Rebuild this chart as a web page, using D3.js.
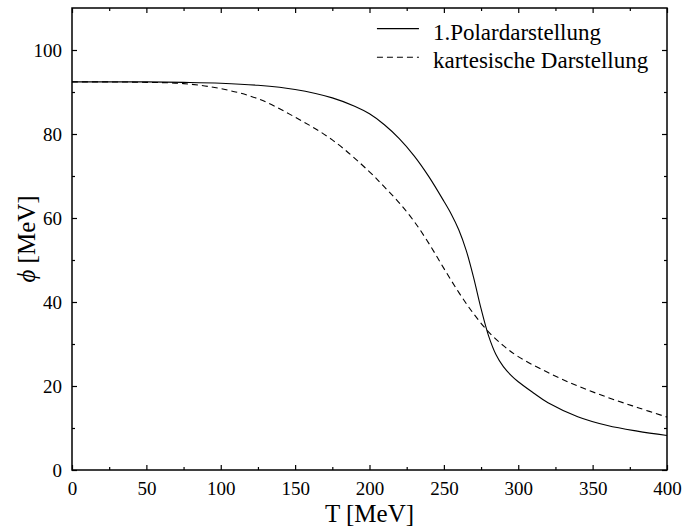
<!DOCTYPE html>
<html>
<head>
<meta charset="utf-8">
<script src="https://cdn.jsdelivr.net/npm/d3@7"></script>
<style>
  body { margin: 0; background: #fff; }
</style>
</head>
<body>
<div id="chart"></div>
<script>
const FONT = '"Liberation Serif", "Times New Roman", Times, serif';

// 1. Polardarstellung
const tempsPolar = [0, 25, 50, 75, 100, 125, 150, 175, 190, 200, 210, 220, 230, 240, 250, 255, 260, 265, 270, 275, 280, 285, 290, 295, 300, 310, 320, 340, 360, 380, 400];
const polar = [92.4, 92.4, 92.4, 92.3, 92.1, 91.6, 90.6, 88.6, 86.6, 84.8, 82.2, 78.9, 74.8, 69.8, 64.0, 60.9, 57.2, 52.3, 45.8, 38.4, 32.0, 27.5, 24.6, 22.6, 21.0, 18.4, 16.0, 12.7, 10.6, 9.25, 8.2];
// kartesische Darstellung
const tempsKart = [0, 25, 50, 75, 100, 125, 150, 175, 200, 210, 220, 230, 240, 250, 260, 270, 280, 290, 300, 320, 340, 360, 380, 400];
const kartesisch = [92.4, 92.4, 92.3, 92.0, 90.8, 88.4, 84.0, 78.6, 71.0, 67.4, 63.6, 59.2, 53.9, 48.0, 42.3, 37.2, 32.9, 29.6, 27.0, 23.2, 20.0, 17.3, 14.9, 12.6];

const xTicks = [0, 50, 100, 150, 200, 250, 300, 350, 400];
const yTicks = [0, 20, 40, 60, 80, 100];

const series = [
  { name: "1.Polardarstellung", temps: tempsPolar, values: polar, dash: null },
  { name: "kartesische Darstellung", temps: tempsKart, values: kartesisch, dash: "6,4" }
];

const W = 685, H = 528;
const margin = { top: 8, right: 18, bottom: 58, left: 72 };
const width = W - margin.left - margin.right;
const height = H - margin.top - margin.bottom;

const svg = d3.select("#chart").append("svg")
  .attr("width", W).attr("height", H);
const g = svg.append("g")
  .attr("transform", `translate(${margin.left},${margin.top})`);

const x = d3.scaleLinear().domain([0, 400]).range([0, width]);
const y = d3.scaleLinear().domain([0, 110]).range([height, 0]);

// Kurven
series.forEach(s => {
  const line = d3.line()
    .x((d, i) => x(s.temps[i]))
    .y(d => y(d))
    .curve(d3.curveCatmullRom.alpha(0.5));
  g.append("path")
    .datum(s.values)
    .attr("fill", "none")
    .attr("stroke", "#000")
    .attr("stroke-width", 1.1)
    .attr("stroke-dasharray", s.dash)
    .attr("d", line);
});

// Achsen (Ticks nach innen, auf allen Seiten)
const minorX = d3.range(25, 400, 50);
const minorY = d3.range(10, 110, 20);
const tickStyle = sel => {
  sel.select(".domain").remove();
  sel.attr("font-family", null);
  sel.selectAll("line").attr("stroke", "#000").attr("stroke-width", 1.2);
  sel.selectAll("text")
    .style("font-family", FONT)
    .style("font-size", "19px")
    .attr("fill", "#000");
};

g.append("g").attr("transform", `translate(0,${height})`)
  .call(d3.axisBottom(x).tickValues(xTicks).tickSize(-5).tickPadding(12))
  .call(tickStyle);
g.append("g").attr("transform", `translate(0,${height})`)
  .call(d3.axisBottom(x).tickValues(minorX).tickSize(-3).tickFormat(""))
  .call(tickStyle);
g.append("g")
  .call(d3.axisTop(x).tickValues(xTicks).tickSize(-5).tickFormat(""))
  .call(tickStyle);
g.append("g")
  .call(d3.axisTop(x).tickValues(minorX).tickSize(-3).tickFormat(""))
  .call(tickStyle);

g.append("g")
  .call(d3.axisLeft(y).tickValues(yTicks).tickSize(-5).tickPadding(10))
  .call(tickStyle);
g.append("g")
  .call(d3.axisLeft(y).tickValues(minorY).tickSize(-3).tickFormat(""))
  .call(tickStyle);
g.append("g").attr("transform", `translate(${width},0)`)
  .call(d3.axisRight(y).tickValues(yTicks).tickSize(-5).tickFormat(""))
  .call(tickStyle);
g.append("g").attr("transform", `translate(${width},0)`)
  .call(d3.axisRight(y).tickValues(minorY).tickSize(-3).tickFormat(""))
  .call(tickStyle);

// Rahmen
g.append("rect")
  .attr("width", width).attr("height", height)
  .attr("fill", "none").attr("stroke", "#000").attr("stroke-width", 1.5);

// Legende
const legend = g.append("g").attr("transform", `translate(${x(205)},${y(105.1)})`);
series.forEach((s, i) => {
  const row = legend.append("g").attr("transform", `translate(0,${i * 28.7})`);
  row.append("line")
    .attr("x1", 0).attr("x2", 42)
    .attr("stroke", "#000").attr("stroke-width", 1.1)
    .attr("stroke-dasharray", s.dash);
  row.append("text")
    .attr("x", 56).attr("y", 11)
    .style("font-family", FONT)
    .style("font-size", "23px")
    .text(s.name);
});

// Achsenbeschriftungen
svg.append("text")
  .attr("x", margin.left + width / 2)
  .attr("y", 522)
  .attr("text-anchor", "middle")
  .style("font-family", FONT)
  .style("font-size", "25px")
  .text("T [MeV]");

const yl = svg.append("text")
  .attr("transform", `translate(35,${margin.top + height / 2}) rotate(-90)`)
  .attr("text-anchor", "middle")
  .style("font-family", FONT)
  .style("font-size", "25px");
yl.append("tspan").style("font-style", "italic").text("ϕ");
yl.append("tspan").text(" [MeV]");
</script>
</body>
</html>
